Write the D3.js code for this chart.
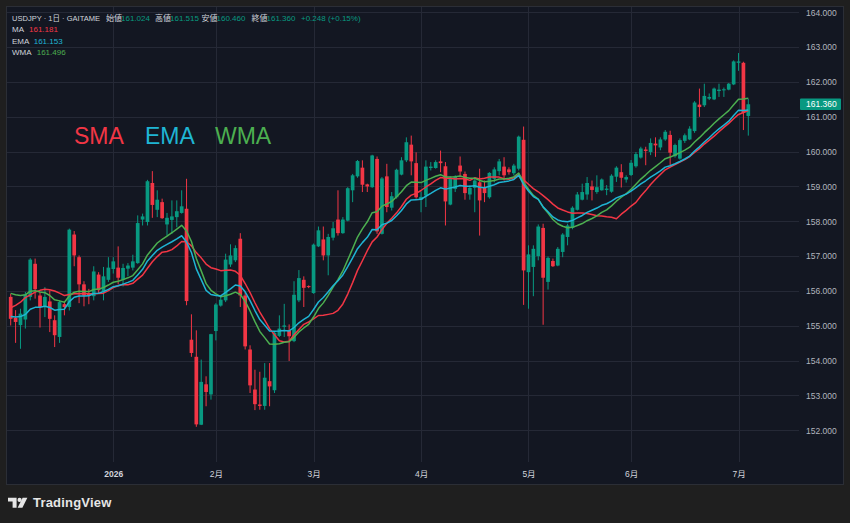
<!DOCTYPE html>
<html><head><meta charset="utf-8">
<script src="https://cdn.jsdelivr.net/npm/d3@7"></script>
<style>html,body{margin:0;padding:0;background:#1f1f1f;overflow:hidden}</style>
</head><body><svg id="c" width="850" height="523"></svg>
<script>
// ---------- DATA ----------
const firstDay = "2025-12-02", lastDay = "2026-07-03";
const holidays = ["2025-12-25", "2026-01-01"];
const opens = [155.83,155.23,155.02,155.18,155.83,156.78,155.87,155.54,155.70,155.16,154.68,155.62,155.54,157.62,156.97,156.19,155.94,155.85,156.47,155.97,
156.32,156.63,156.67,156.32,156.64,156.67,156.80,158.05,157.98,159.10,158.33,158.55,157.91,158.04,158.12,158.24,158.36,154.60,154.11,152.16,
153.32,153.03,154.85,155.58,155.73,156.76,156.88,157.50,155.87,154.32,153.17,152.74,152.70,153.41,153.15,154.71,154.97,154.87,154.56,155.73,
156.32,156.14,155.94,157.28,157.48,157.02,157.53,158.05,157.66,158.02,158.89,159.29,159.54,159.06,158.98,159.79,157.64,159.29,158.39,158.69,
159.34,159.75,160.20,159.67,158.62,158.74,159.53,159.53,159.72,159.58,158.48,158.93,159.60,159.36,158.77,158.96,159.12,158.96,158.69,159.22,
159.44,159.57,159.49,159.38,159.51,160.34,156.54,156.69,157.00,157.81,156.26,156.86,156.73,157.12,157.55,157.81,158.33,158.62,158.77,159.00,
158.84,158.89,158.90,158.85,159.28,159.41,159.20,159.33,159.58,159.83,160.06,159.99,160.23,160.12,160.35,160.48,159.87,159.80,160.31,160.35,
160.59,161.35,161.33,161.52,161.50,161.74,161.76,161.78,161.93,162.55,162.55,161.024];
const highs = [155.92,155.45,155.49,155.97,156.94,156.93,155.97,156.11,156.02,155.30,155.73,155.68,157.79,157.72,157.02,156.28,156.06,156.71,156.54,156.69,
156.97,156.97,157.28,156.78,156.80,157.04,158.17,158.22,159.19,159.44,158.89,158.65,158.24,158.60,158.60,158.89,159.22,155.33,154.87,154.03,
153.55,154.77,155.65,155.87,157.07,157.34,157.31,157.66,155.97,154.44,153.74,153.68,153.93,153.93,154.85,155.30,155.63,155.04,156.28,156.60,
156.42,156.16,157.36,157.85,157.85,157.64,157.98,158.89,158.12,158.98,159.36,159.76,159.75,159.08,159.91,159.86,159.27,159.65,158.84,159.51,
159.84,160.41,160.46,159.98,158.85,159.75,159.70,159.75,160.03,159.70,159.29,159.32,159.86,159.43,159.03,159.22,159.51,159.17,159.41,159.55,
159.79,159.84,159.55,159.65,160.46,160.72,157.31,157.31,157.91,157.93,156.99,156.93,157.26,157.66,157.93,158.43,158.84,159.08,159.27,159.17,
159.32,159.23,159.04,159.35,159.58,159.64,159.32,159.76,159.99,160.14,160.14,160.38,160.41,160.41,160.62,160.60,160.23,160.38,160.52,160.73,
161.45,161.81,161.95,161.67,161.84,161.95,161.84,161.97,162.62,162.83,162.58,161.515];
const lows = [155.01,154.51,154.34,154.92,155.73,155.78,154.95,155.25,154.82,154.39,154.51,155.30,155.44,156.71,155.65,155.56,155.62,155.73,155.92,155.73,
156.26,156.50,156.19,156.13,156.42,156.59,156.78,157.88,157.88,158.10,158.12,158.07,157.59,157.64,157.83,158.22,155.59,154.11,152.10,152.15,
152.69,152.88,154.58,155.55,155.68,156.69,156.83,155.54,154.32,153.07,152.58,152.59,152.59,152.69,153.07,154.68,154.68,153.99,154.53,155.68,
155.54,156.08,155.92,157.26,156.88,156.45,157.45,157.59,157.64,158.00,158.55,159.25,158.84,158.84,158.96,157.64,157.62,158.26,158.31,158.65,
159.32,159.70,159.32,158.65,158.26,158.41,159.46,159.51,159.41,157.88,158.46,158.84,159.29,158.62,158.62,158.26,157.59,158.55,158.65,159.12,
159.32,159.17,159.34,159.32,159.46,155.60,155.49,155.85,156.88,155.03,156.04,156.69,156.71,156.97,157.31,157.77,158.31,158.60,158.62,158.60,
158.79,158.88,158.75,158.82,159.13,158.97,159.11,159.30,159.54,159.80,159.61,159.90,159.85,160.04,160.31,159.61,159.83,159.77,160.25,160.33,
160.54,161.00,161.28,161.48,161.48,161.57,161.57,161.76,161.91,162.32,160.62,160.460];
const closes = [155.20,155.11,155.35,155.90,156.90,156.05,155.54,155.83,155.20,154.73,155.68,155.54,157.76,157.02,156.19,155.87,155.88,156.56,156.02,156.42,
156.67,156.85,156.38,156.66,156.73,156.85,157.95,158.14,159.15,158.47,158.62,158.09,158.10,158.14,158.29,158.43,155.71,154.22,152.17,153.39,
153.10,154.76,155.61,155.75,156.90,157.02,157.23,155.87,154.41,153.29,152.75,152.70,153.51,153.26,154.80,154.92,155.01,154.70,155.89,156.37,
156.09,156.12,157.33,157.74,157.02,157.55,157.80,157.66,158.05,158.95,159.32,159.73,159.05,159.00,159.89,157.71,159.23,158.41,158.72,159.48,
159.75,160.27,159.72,158.69,158.70,159.57,159.57,159.70,159.67,158.57,159.25,159.29,159.43,158.81,158.96,159.17,158.60,158.81,159.39,159.49,
159.72,159.32,159.41,159.60,160.43,156.59,157.05,157.21,157.85,156.38,156.95,156.71,157.21,157.62,157.88,158.39,158.77,158.84,159.10,158.90,
158.98,159.20,158.94,159.31,159.54,159.25,159.27,159.68,159.93,160.09,160.02,160.25,160.18,160.35,160.57,159.97,160.19,160.33,160.47,160.66,
161.41,161.28,161.60,161.57,161.81,161.78,161.79,161.95,162.59,162.59,161.112,161.360];
// closes before the visible range (only used to warm up the 20-bar averages)
const priorCloses = [153.71,153.55,153.30,155.30,154.45,154.54,155.23,155.40,155.53,156.88,156.94,157.16,156.62,156.19,155.87,155.88,156.56,155.82,156.22];
const emaSeed = 155.27;
const period = 20;
const priceTicks = [152,153,154,155,156,157,158,159,160,161,162,163,164];
const maNames = ["MA", "EMA", "WMA"];
const maLegendValues = ["161.181", "161.153", "161.496"];
const bigLabels = ["SMA", "EMA", "WMA"];

// ---------- BUILD ----------
const parse = d3.utcParse("%Y-%m-%d"), fmtDay = d3.utcFormat("%Y-%m-%d");
const dates = [];
for (let d = parse(firstDay); d <= parse(lastDay); d = d3.utcDay.offset(d, 1)) {
  const wd = d.getUTCDay();
  if (wd === 0 || wd === 6 || holidays.includes(fmtDay(d))) continue;
  dates.push(d);
}
const n = closes.length;
const bars = d3.range(n).map(i => ({i, date: dates[i], o: opens[i], h: highs[i], l: lows[i], c: closes[i]}));

const all = priorCloses.concat(closes);
const P = priorCloses.length;
const sma = d3.range(n).map(i => d3.mean(all.slice(i + P - period + 1, i + P + 1)));
const wma = d3.range(n).map(i => {
  const w = all.slice(i + P - period + 1, i + P + 1);
  return d3.sum(w, (v, k) => v * (k + 1)) / (period * (period + 1) / 2);
});
const alpha = 2 / (period + 1);
const ema = [];
closes.forEach((c, i) => ema.push(i === 0 ? emaSeed : alpha * c + (1 - alpha) * ema[i - 1]));

const UP = "#089981", DOWN = "#f23645";
const C_SMA = "#f23645", C_EMA = "#1fb5d4", C_WMA = "#4caf50";
const TXT = "#d1d4dc";
const FONT = "'Liberation Sans','Noto Sans CJK JP',Arial,sans-serif";

const svg = d3.select("#c");
const paneL = 7, paneR = 799, paneT = 7, paneB = 462, frameR = 843, frameB = 484;

const x = d3.scaleLinear().domain([0, n - 1]).range([10.7, 748.3]);
const y = d3.scaleLinear().domain([152, 164]).range([430.3, 12.3]);

svg.append("rect").attr("width", 850).attr("height", 523).attr("fill", "#1f1f1f");
svg.append("rect").attr("x", paneL - 0.5).attr("y", paneT - 0.5).attr("width", frameR - paneL + 1).attr("height", frameB - paneT + 1)
  .attr("fill", "#131722").attr("stroke", "#2b2e36").attr("stroke-width", 1);

const defs = svg.append("defs");
defs.append("clipPath").attr("id", "pane").append("rect")
  .attr("x", paneL).attr("y", paneT).attr("width", paneR - paneL).attr("height", paneB - paneT);

// grid
const grid = svg.append("g").attr("clip-path", "url(#pane)");
grid.selectAll("line.h").data(priceTicks).join("line")
  .attr("x1", paneL).attr("x2", paneR).attr("y1", d => Math.round(y(d)) + 0.5).attr("y2", d => Math.round(y(d)) + 0.5)
  .attr("stroke", "#252936").attr("stroke-width", 1);

const monthTicks = bars.filter((b, k) => k > 0 && b.date.getUTCMonth() !== bars[k - 1].date.getUTCMonth());
grid.selectAll("line.v").data(monthTicks).join("line")
  .attr("x1", d => Math.round(x(d.i)) + 0.5).attr("x2", d => Math.round(x(d.i)) + 0.5)
  .attr("y1", paneT).attr("y2", paneB).attr("stroke", "#252936").attr("stroke-width", 1);

// candles
const plot = svg.append("g").attr("clip-path", "url(#pane)");
const bw = 3.7;
const cg = plot.selectAll("g.candle").data(bars).join("g");
cg.append("line")
  .attr("x1", d => x(d.i)).attr("x2", d => x(d.i))
  .attr("y1", d => y(d.h)).attr("y2", d => y(d.l))
  .attr("stroke", d => d.c >= d.o ? UP : DOWN).attr("stroke-width", 1);
cg.append("rect")
  .attr("x", d => x(d.i) - bw / 2).attr("width", bw)
  .attr("y", d => y(Math.max(d.o, d.c)))
  .attr("height", d => Math.max(1, Math.abs(y(d.o) - y(d.c))))
  .attr("fill", d => d.c >= d.o ? UP : DOWN);

// moving averages
const line = d3.line().x((d, i) => x(i)).y(d => y(d)).curve(d3.curveLinear);
[[sma, C_SMA], [wma, C_WMA], [ema, C_EMA]].forEach(([arr, col]) => {
  plot.append("path").datum(arr).attr("d", line).attr("fill", "none")
    .attr("stroke", col).attr("stroke-width", 1.5).attr("stroke-linejoin", "round");
});

// price axis
const yAxis = d3.axisRight(y).tickValues(priceTicks).tickSize(0).tickPadding(0).tickFormat(d3.format(".3f"));
const ya = svg.append("g").attr("transform", `translate(806,0)`).call(yAxis);
ya.select(".domain").remove();
ya.selectAll("text").attr("fill", "#b2b5be").attr("font-size", "8.5px").attr("font-family", FONT).attr("dy", "0.33em");

// last price label
const last = bars[n - 1];
const ly = y(last.c);
svg.append("rect").attr("x", 800).attr("y", ly - 5.8).attr("width", 41).attr("height", 11.6).attr("rx", 1).attr("fill", UP);
svg.append("text").attr("x", 806).attr("y", ly).attr("dy", "0.34em").attr("fill", "#ffffff")
  .attr("font-size", "8.5px").attr("font-family", FONT).text(d3.format(".3f")(last.c));

// time axis
const xAxis = d3.axisBottom(x).tickValues(monthTicks.map(d => d.i)).tickSize(0).tickPadding(0)
  .tickFormat(i => { const m = dates[i].getUTCMonth(); return m === 0 ? String(dates[i].getUTCFullYear()) : (m + 1) + "月"; });
const xa = svg.append("g").attr("transform", `translate(0,472)`).call(xAxis);
xa.select(".domain").remove();
xa.selectAll("text").attr("fill", TXT).attr("font-size", "8.5px").attr("font-family", FONT)
  .attr("dy", "0.6em").attr("font-weight", i => dates[i].getUTCMonth() === 0 ? "bold" : "normal");

// legend (top-left)
const lg = svg.append("g").attr("font-family", FONT).attr("font-size", "8px");
const f3 = d3.format(".3f");
const prev = bars[n - 2].c, chg = last.c - prev;
const topItems = [
  [12, "USDJPY · 1日 · GAITAME", TXT, 88],
  [106, "始値", TXT], [121, f3(last.o), UP],
  [155, "高値", TXT], [170, f3(last.h), UP],
  [201.5, "安値", TXT], [216.5, f3(last.l), UP],
  [251.5, "終値", TXT], [266.5, f3(last.c), UP],
  [301, (chg >= 0 ? "+" : "") + f3(chg) + " (" + (chg >= 0 ? "+" : "") + d3.format(".2f")(chg / prev * 100) + "%)", UP]
];
lg.selectAll("text.t").data(topItems).join("text").attr("x", d => d[0]).attr("y", 20.8).attr("fill", d => d[2])
  .each(function(d) { if (d[3]) d3.select(this).attr("textLength", d[3]).attr("lengthAdjust", "spacingAndGlyphs"); })
  .text(d => d[1]);
const maCols = [C_SMA, C_EMA, C_WMA];
const maValX = [29, 33.7, 36.7];
const maY = [32.2, 43.8, 55.3];
maNames.forEach((nm, k) => {
  lg.append("text").attr("x", 12).attr("y", maY[k]).attr("fill", TXT).text(nm);
  lg.append("text").attr("x", maValX[k]).attr("y", maY[k]).attr("fill", maCols[k]).text(maLegendValues[k]);
});

// big labels
const bigX = [74, 145, 215];
svg.selectAll("text.big").data(bigLabels).join("text")
  .attr("x", (d, k) => bigX[k]).attr("y", 143.5).attr("fill", (d, k) => maCols[k])
  .attr("font-family", FONT).attr("font-size", "23px").text(d => d);

// TradingView logo
const logo = svg.append("g").attr("fill", "#e6e6e6");
logo.append("path").attr("d", "M8,497.8 H16.6 V507.8 H12.6 V501.6 H8 Z");
logo.append("circle").attr("cx", 19.6).attr("cy", 499.9).attr("r", 2.1);
logo.append("path").attr("d", "M22.6,497.8 H27.4 L22.4,507.8 H17.6 Z");
logo.append("text").attr("x", 33).attr("y", 506.6).attr("font-family", FONT).attr("font-weight", "bold")
  .attr("font-size", "13px").attr("letter-spacing", "0.2px").text("TradingView");
</script></body></html>
